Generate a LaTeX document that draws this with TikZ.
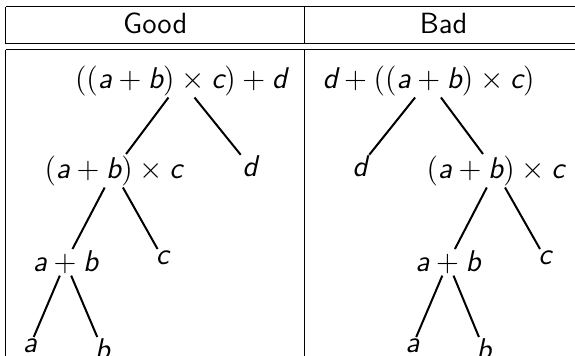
\documentclass[tikz,border=0pt]{standalone}
\usepackage{fontspec}
\newcommand\mv[1]{\mbox{\sffamily\itshape #1}}
\begin{document}
\begin{tikzpicture}[x=0.4pt,y=-0.4pt,
  tn/.style={font=\fontsize{12}{14.5}\selectfont, inner sep=0.5pt, anchor=north},
  hd/.style={font=\fontsize{11.7}{14}\selectfont\sffamily, inner sep=0pt, anchor=base},
  edge/.style={line width=0.8pt},
  rule/.style={line width=0.4pt}]
\useasboundingbox (0,0) rectangle (575,355);
% table rules
\draw[rule] (6,6.5) -- (600,6.5);
\draw[rule] (6,43.5) -- (600,43.5);
\draw[rule] (6,49.5) -- (600,49.5);
\draw[rule] (6,6.5) -- (6,43.5);
\draw[rule] (6,49.5) -- (6,370);
\draw[rule] (304.5,6.5) -- (304.5,43.5);
\draw[rule] (304.5,49.5) -- (304.5,370);
% headers
\node[hd] (good) at (155.25,33) {Good};
\node[hd] (bad) at (443.5,33) {Bad};
% good tree
\node[tn] (g1) at (181,64) {$((\mv a+\mv b)\times \mv c)+\mv d$};
\node[tn] (g2) at (113.5,154) {$(\mv a+\mv b)\times\mv c$};
\node[tn] (g3) at (250,154) {$\mv d$};
\node[tn] (g4) at (65.5,249) {$\mv a+\mv b$};
\node[tn] (g5) at (162.5,249) {$\mv c$};
\node[tn] (g6) at (30,337) {$\mv a$};
\node[tn] (g7) at (102.5,337) {$\mv b$};
\draw[edge] (g1) -- (g2);
\draw[edge] (g1) -- (g3);
\draw[edge] (g2) -- (g4);
\draw[edge] (g2) -- (g5);
\draw[edge] (g4) -- (g6);
\draw[edge] (g4) -- (g7);
% bad tree
\node[tn] (b1) at (428.5,64) {$\mv d+((\mv a+\mv b)\times \mv c)$};
\node[tn] (b2) at (360,154) {$\mv d$};
\node[tn] (b3) at (495.5,154) {$(\mv a+\mv b)\times\mv c$};
\node[tn] (b4) at (448,249) {$\mv a+\mv b$};
\node[tn] (b5) at (545,249) {$\mv c$};
\node[tn] (b6) at (412.5,337) {$\mv a$};
\node[tn] (b7) at (484,337) {$\mv b$};
\draw[edge] (b1) -- (b2);
\draw[edge] (b1) -- (b3);
\draw[edge] (b3) -- (b4);
\draw[edge] (b3) -- (b5);
\draw[edge] (b4) -- (b6);
\draw[edge] (b4) -- (b7);
\end{tikzpicture}
\end{document}
